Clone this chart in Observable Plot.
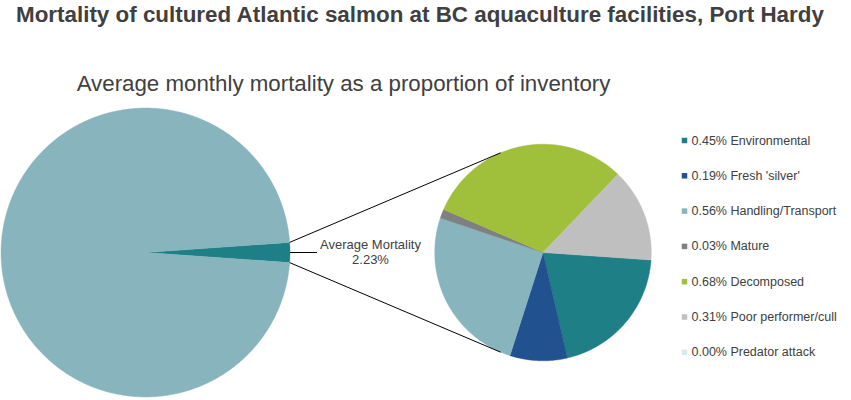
<!DOCTYPE html>
<html><head><meta charset="utf-8">
<script src="https://cdn.jsdelivr.net/npm/d3@7"></script>
<script src="https://cdn.jsdelivr.net/npm/@observablehq/plot@0.6"></script>
<style>
body{margin:0;background:#fff;font-family:"Liberation Sans",Arial,sans-serif;}
#wrap{position:relative;width:851px;height:400px;overflow:hidden;}
#title{position:absolute;left:16px;top:3.6px;font-size:22.4px;font-weight:bold;line-height:22.4px;color:#404040;white-space:nowrap;}
#subtitle{position:absolute;left:0;width:687px;text-align:center;top:72.8px;font-size:22.3px;line-height:22.3px;color:#404040;white-space:nowrap;}
#chart{position:absolute;left:0;top:100px;}
</style></head>
<body>
<div id="wrap">
  <div id="title">Mortality of cultured Atlantic salmon at BC aquaculture facilities, Port Hardy</div>
  <div id="subtitle">Average monthly mortality as a proportion of inventory</div>
  <div id="chart"></div>
</div>
<script>
// ---- data ----
const categories = ["Environmental", "Fresh 'silver'", "Handling/Transport", "Mature", "Decomposed", "Poor performer/cull", "Predator attack"];
const values = [0.45, 0.19, 0.56, 0.03, 0.68, 0.31, 0.00]; // % of inventory per month
const averageMortality = 2.23; // %
const survivingShare = 100 - averageMortality;
const mortalityLabel = "Average Mortality";

// ---- styles ----
const colors = ["#1e7f87", "#22518f", "#88b5bd", "#808080", "#a0bf3b", "#bfbfbf", "#d6e9eb"];
const otherColor = "#88b5bd";
const mortalityColor = "#1e7f87";

// ---- layout ----
const W = 851, H = 300;
const deg = Math.PI / 180;
const big = {cx: 145, cy: 152, r: 144.5};
const small = {cx: 542.5, cy: 152, r: 108.3};
const smallStart = 94 * deg;

function slicePoints(id, color, a0, a1, c) {
  const pts = [{id, color, x: c.cx, y: c.cy}];
  const n = Math.max(2, Math.ceil(Math.abs(a1 - a0) / (0.5 * deg)));
  for (let i = 0; i <= n; i++) {
    const a = a0 + (a1 - a0) * i / n;
    pts.push({id, color, x: c.cx + c.r * Math.sin(a), y: c.cy - c.r * Math.cos(a)});
  }
  pts.push({id, color, x: c.cx, y: c.cy});
  return pts;
}

// big pie: mortality slice centred on 3 o'clock
const half = averageMortality / 100 * Math.PI;
const bigArcs = d3.pie().sort(null).startAngle(90 * deg - half).endAngle(90 * deg - half + 2 * Math.PI)([averageMortality, survivingShare]);
const bigColors = [mortalityColor, otherColor];
let slices = [];
bigArcs.forEach((a, i) => { slices = slices.concat(slicePoints("big" + i, bigColors[i], a.startAngle, a.endAngle, big)); });

// small pie: breakdown
const smallArcs = d3.pie().sort(null).startAngle(smallStart).endAngle(smallStart + 2 * Math.PI)(values);
smallArcs.forEach((a, i) => {
  if (values[i] > 0) slices = slices.concat(slicePoints("small" + i, colors[i], a.startAngle, a.endAngle, small));
});

// connector lines: from mortality slice edges, tangent to the small pie
const m = bigArcs[0];
function edge(a) { return [big.cx + big.r * Math.sin(a), big.cy - big.r * Math.cos(a)]; }
function tangent(P, sign) {
  const dx = P[0] - small.cx, dy = P[1] - small.cy;
  const d = Math.hypot(dx, dy);
  const beta = Math.atan2(dy, dx);
  const alpha = Math.acos(small.r / d);
  const t = beta + sign * alpha;
  return [small.cx + small.r * Math.cos(t), small.cy + small.r * Math.sin(t)];
}
const P1 = edge(m.startAngle), P2 = edge(m.endAngle);
const T1 = tangent(P1, 1), T2 = tangent(P2, -1);
const mid = edge((m.startAngle + m.endAngle) / 2);
const links = [
  {x1: P1[0], y1: P1[1], x2: T1[0], y2: T1[1]},
  {x1: P2[0], y1: P2[1], x2: T2[0], y2: T2[1]},
  {x1: mid[0], y1: mid[1], x2: mid[0] + 27, y2: mid[1]}
];

const rowY = (d, i) => 40 + i * 35.3;

const chart = Plot.plot({
  width: W, height: H, margin: 0,
  x: {domain: [0, W], axis: null},
  y: {domain: [0, H], range: [0, H], axis: null},
  color: {type: "identity"},
  style: {fontFamily: "'Liberation Sans', Arial, sans-serif", background: "transparent", overflow: "visible"},
  marks: [
    Plot.line(slices, {x: "x", y: "y", z: "id", fill: "color", stroke: "color", strokeWidth: 0.4, curve: "linear"}),
    Plot.link(links, {x1: "x1", y1: "y1", x2: "x2", y2: "y2", stroke: "#000", strokeWidth: 1}),
    Plot.text([mortalityLabel + "\n" + averageMortality.toFixed(2) + "%"], {x: () => 370, y: () => 151.5, text: d => d, fontSize: 13, lineHeight: 1.15, fill: "#404040", textAnchor: "middle"}),
    Plot.dot(categories, {x: () => 684, y: rowY, symbol: "square", r: 3.1, fill: (d, i) => colors[i], stroke: null}),
    Plot.text(categories, {x: () => 691, y: rowY, text: (d, i) => `${values[i].toFixed(2)}% ${d}`, textAnchor: "start", fontSize: 12.5, fill: "#404040"})
  ]
});
document.getElementById("chart").appendChild(chart);
</script>
</body></html>
